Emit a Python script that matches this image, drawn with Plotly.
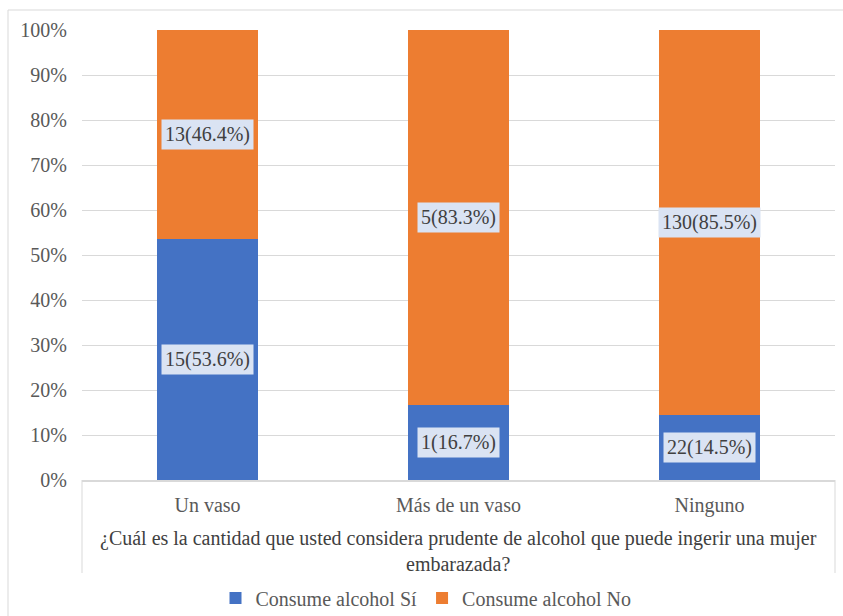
import plotly.graph_objects as go

# Respuestas por categoría
categorias = ["Un vaso", "Más de un vaso", "Ninguno"]
consume_si = [15, 1, 22]
consume_no = [13, 5, 130]
series_nombres = ["Consume alcohol Sí", "Consume alcohol No"]
colores = ["#4472C4", "#ED7D31"]
y_ticks = [0, 10, 20, 30, 40, 50, 60, 70, 80, 90, 100]
titulo_eje = ("¿Cuál es la cantidad que usted considera prudente de alcohol que puede ingerir una mujer"
              "<br>embarazada?")

FONT = "'Liberation Serif', 'Times New Roman', Times, serif"
FS = 20

totales = [a + b for a, b in zip(consume_si, consume_no)]
pct_si = [100 * a / t for a, t in zip(consume_si, totales)]
pct_no = [100 * b / t for b, t in zip(consume_no, totales)]

fig = go.Figure()
for nombre, pct, color in zip(series_nombres, [pct_si, pct_no], colores):
    fig.add_trace(go.Bar(x=categorias, y=pct, name=nombre, marker_color=color,
                         marker_line_width=0, width=0.4))

# Etiquetas de datos centradas en cada segmento
anns = []
for cat, n_si, n_no, p_si, p_no in zip(categorias, consume_si, consume_no, pct_si, pct_no):
    for n, p, base in [(n_si, p_si, 0), (n_no, p_no, p_si)]:
        anns.append(dict(x=cat, y=base + p / 2, xref="x", yref="y",
                         text=f"{n}({p:.1f}%)", showarrow=False,
                         font=dict(family=FONT, size=FS, color="#404040"),
                         bgcolor="#DAE3F3", borderpad=3))

# Título del eje en dos líneas, bajo las categorías
W, H = 843, 616
L, R, T, B = 82, 8, 30, 136
pw, ph = W - L - R, H - T - B


def px(xp):
    return (xp - L) / pw


def py(yp):
    return (H - B - yp) / ph


anns.append(dict(x=px(458), y=py(551), xref="paper", yref="paper", text=titulo_eje,
                 showarrow=False, font=dict(family=FONT, size=FS, color="#404040"),
                 xanchor="center", yanchor="middle"))

shapes = [
    # marco exterior
    dict(type="line", xref="paper", yref="paper", x0=px(8), x1=px(850), y0=py(10), y1=py(10),
         line=dict(color="#D9D9D9", width=1)),
    dict(type="line", xref="paper", yref="paper", x0=px(8), x1=px(8), y0=py(10), y1=py(620),
         line=dict(color="#D9D9D9", width=1)),
    # líneas verticales de la tabla de categorías
    dict(type="line", xref="paper", yref="paper", x0=0, x1=0, y0=0, y1=py(573),
         line=dict(color="#D9D9D9", width=1)),
    dict(type="line", xref="paper", yref="paper", x0=1, x1=1, y0=0, y1=py(573),
         line=dict(color="#D9D9D9", width=1)),
]

fig.update_layout(
    width=W, height=H,
    margin=dict(l=L, r=R, t=T, b=B, autoexpand=False),
    barmode="stack",
    bargap=0.6,
    plot_bgcolor="white", paper_bgcolor="white",
    font=dict(family=FONT, size=FS, color="#595959"),
    annotations=anns,
    shapes=shapes,
    showlegend=True,
    legend=dict(orientation="h", x=px(426), xanchor="center", y=py(598), yanchor="middle",
                font=dict(family=FONT, size=FS, color="#595959"), itemwidth=30,
                traceorder="normal"),
)
fig.update_yaxes(range=[0, 100], tickvals=y_ticks, ticktext=[f"{v}%" for v in y_ticks],
                 showgrid=True, gridcolor="#D9D9D9", gridwidth=1, zeroline=False,
                 showline=False, ticklabelstandoff=14, fixedrange=True, automargin=False)
fig.update_xaxes(showline=True, linecolor="#D9D9D9", linewidth=1.5, showgrid=False,
                 ticks="", ticklabelstandoff=6, fixedrange=True, automargin=False)

fig.write_html("out.html")
